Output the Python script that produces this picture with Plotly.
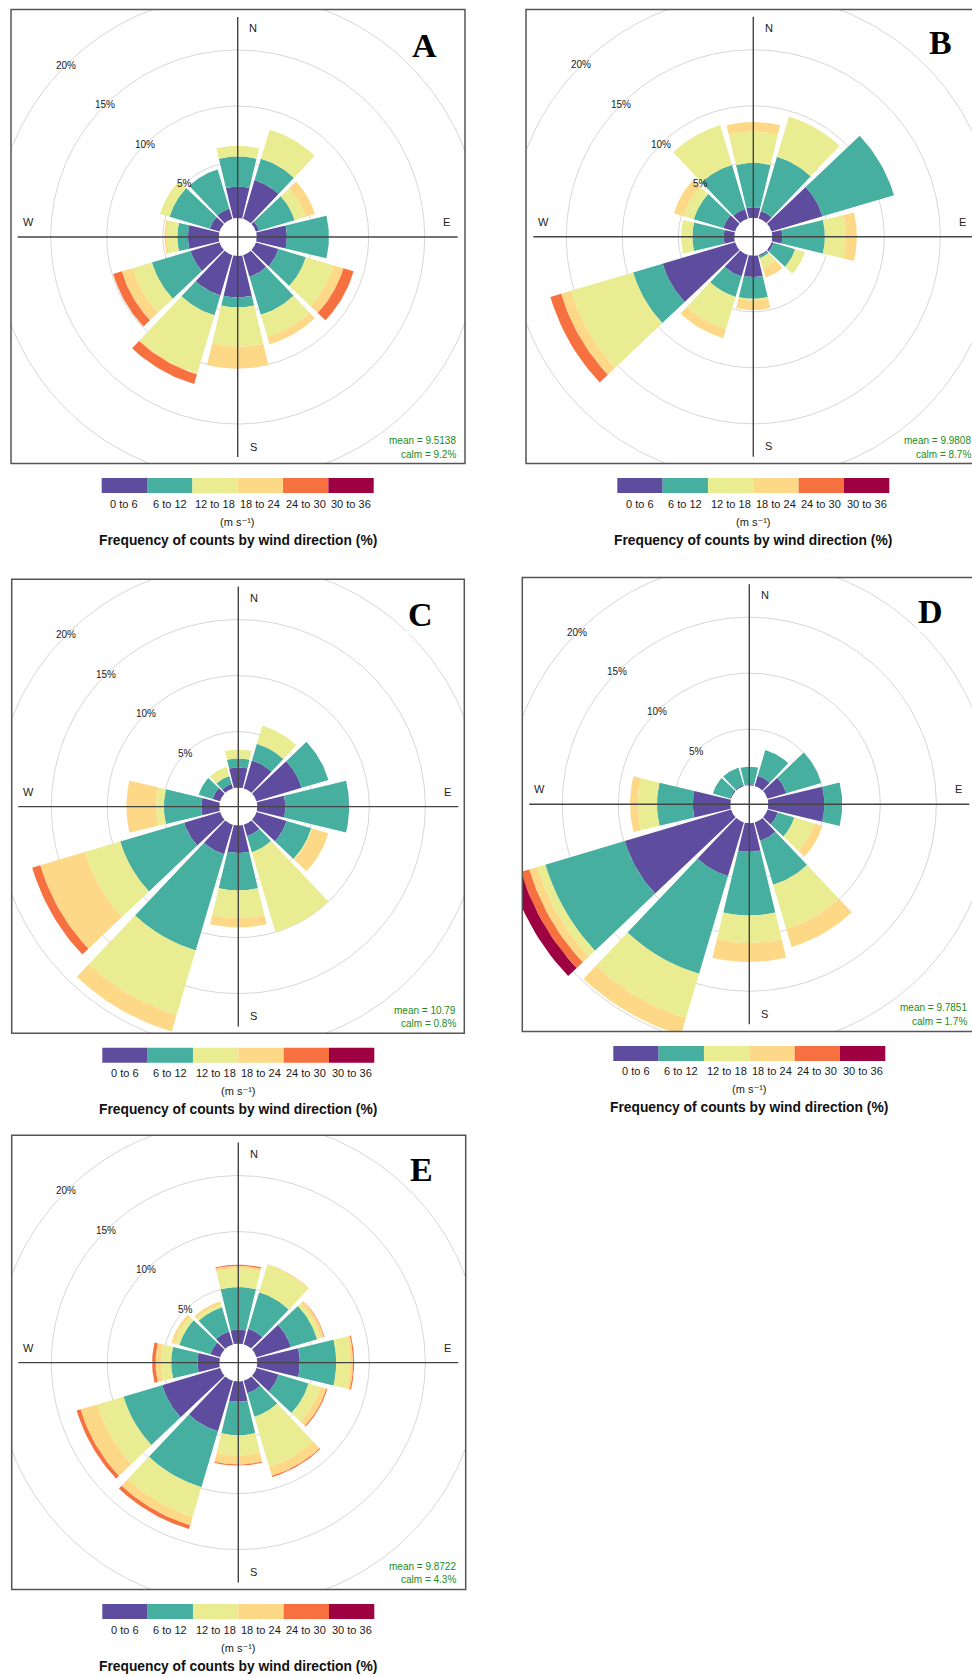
import math
import plotly.graph_objects as go

# ---------------- figure geometry ----------------
FIG_W, FIG_H = 972, 1677
PX = 11.2            # pixels per 1 % of frequency (radial scale)
HOLE = 19 / PX       # calm-circle radius expressed in % units
HALF_WIDTH = 13.5    # half angular width of a wedge (deg)

# ---------------- data ----------------
DIRECTIONS = [0, 30, 60, 90, 120, 150, 180, 210, 240, 270, 300, 330]
SPEED_BINS = ["0 to 6", "6 to 12", "12 to 18", "18 to 24", "24 to 30", "30 to 36"]
BIN_COLORS = ["#5E4C9E", "#46AF9F", "#E9EC91", "#FDD987", "#F7703F", "#9E0142"]
GRID_LEVELS = [5, 10, 15, 20]
COMPASS_LABELS = ["N", "E", "S", "W"]
PANEL_LETTERS = ["A", "B", "C", "D", "E"]
MEAN_SPEED = ["9.5138", "9.9808", "10.79", "9.7851", "9.8722"]
CALM_PCT = ["9.2%", "8.7%", "0.8%", "1.7%", "4.3%"]
UNIT_TEXT = "(m s\u207b\u00b9)"
KEY_TITLE = "Frequency of counts by wind direction (%)"

# frequency (%) per speed bin, directions N, NNE, ENE, E, ESE, SSE, S, SSW, WSW, W, WNW, NNW
A_0_6 = [2.8, 3.6, 0.3, 2.7, 2.1, 2.0, 3.7, 3.75, 2.7, 2.75, 0.9, 0.95]
A_6_12 = [2.7, 2.0, 3.3, 3.75, 2.55, 3.55, 0.9, 1.85, 3.6, 0.95, 3.75, 3.65]
A_12_18 = [0.95, 2.7, 1.0, 0.0, 2.6, 2.05, 3.5, 5.4, 1.8, 0.95, 0.9, 0.0]
A_18_24 = [0.0, 0.0, 0.9, 0.0, 0.9, 0.7, 1.95, 0.1, 1.0, 0.2, 0.0, 0.0]
A_24_30 = [0.0, 0.0, 0.0, 0.0, 0.95, 0.0, 0.0, 0.9, 0.8, 0.0, 0.0, 0.0]
A_30_36 = [0.0] * 12

B_0_6 = [0.95, 0.7, 4.75, 0.9, 0.2, 0.1, 1.9, 2.0, 6.75, 0.95, 1.1, 0.9]
B_6_12 = [3.95, 5.05, 6.65, 3.8, 2.0, 0.2, 1.95, 1.9, 2.75, 2.8, 2.75, 4.1]
B_12_18 = [2.8, 3.75, 0.0, 1.9, 0.9, 0.9, 0.15, 3.0, 5.8, 1.0, 0.95, 3.7]
B_18_24 = [0.85, 0.0, 0.0, 0.95, 0.0, 0.9, 0.85, 0.85, 0.9, 0.0, 0.9, 0.0]
B_24_30 = [0.0, 0.0, 0.0, 0.0, 0.0, 0.0, 0.0, 0.0, 1.0, 0.0, 0.0, 0.0]
B_30_36 = [0.0] * 12

C_0_6 = [1.8, 2.6, 4.2, 2.5, 2.8, 1.05, 2.45, 2.75, 3.35, 1.6, 0.7, 0.4]
C_6_12 = [0.8, 1.55, 2.5, 5.7, 2.3, 1.5, 3.35, 8.95, 5.95, 3.35, 1.3, 0.75]
C_12_18 = [0.8, 1.7, 0.0, 0.0, 0.1, 7.45, 2.45, 6.0, 3.3, 0.7, 0.0, 0.85]
C_18_24 = [0.0, 0.0, 0.0, 0.0, 1.5, 0.0, 0.85, 1.55, 4.15, 2.65, 0.0, 0.0]
C_24_30 = [0.0, 0.0, 0.0, 0.0, 0.0, 0.0, 0.0, 0.0, 0.75, 0.0, 0.0, 0.0]
C_30_36 = [0.0] * 12

D_0_6 = [0.1, 0.95, 1.75, 5.0, 0.95, 1.7, 2.55, 5.0, 9.9, 3.35, 0.1, 0.1]
D_6_12 = [1.55, 2.4, 3.25, 1.6, 1.55, 4.1, 5.7, 9.1, 7.4, 3.2, 1.6, 1.6]
D_12_18 = [0.0, 0.0, 0.0, 0.0, 1.85, 4.1, 2.45, 4.1, 0.75, 1.7, 0.0, 0.0]
D_18_24 = [0.0, 0.0, 0.0, 0.0, 0.75, 1.7, 1.7, 1.6, 0.75, 0.7, 0.0, 0.0]
D_24_30 = [0.0, 0.0, 0.0, 0.0, 0.0, 0.0, 0.0, 0.0, 0.75, 0.0, 0.0, 0.0]
D_30_36 = [0.0, 0.0, 0.0, 0.0, 0.0, 0.0, 0.0, 0.0, 1.05, 0.0, 0.0, 0.0]

E_0_6 = [1.25, 1.45, 3.2, 3.8, 2.05, 1.15, 1.8, 4.7, 5.4, 1.95, 0.9, 1.2]
E_6_12 = [3.8, 3.4, 2.45, 3.25, 2.8, 2.2, 3.0, 5.2, 3.6, 2.35, 2.9, 2.25]
E_12_18 = [1.65, 2.5, 0.35, 1.25, 1.1, 4.65, 1.8, 2.75, 2.45, 0.9, 0.45, 0.3]
E_18_24 = [0.25, 0.12, 0.3, 0.25, 0.55, 0.85, 0.8, 0.8, 1.55, 0.5, 0.3, 0.25]
E_24_30 = [0.1, 0.0, 0.05, 0.1, 0.1, 0.1, 0.1, 0.35, 0.35, 0.3, 0.0, 0.0]
E_30_36 = [0.0] * 12

PANEL_DATA = [
    [A_0_6, A_6_12, A_12_18, A_18_24, A_24_30, A_30_36],
    [B_0_6, B_6_12, B_12_18, B_18_24, B_24_30, B_30_36],
    [C_0_6, C_6_12, C_12_18, C_18_24, C_24_30, C_30_36],
    [D_0_6, D_6_12, D_12_18, D_18_24, D_24_30, D_30_36],
    [E_0_6, E_6_12, E_12_18, E_18_24, E_24_30, E_30_36],
]

# ---------------- panel placement (pixels) ----------------
GEOM = [
    dict(cx=237.7, cy=237.0, box=(11.0, 9.6, 465.0, 463.6), letter=(424.3, 45.7)),
    dict(cx=753.3, cy=236.8, box=(526.0, 9.6, 980.6, 463.6), letter=(940.7, 42.9)),
    dict(cx=238.3, cy=806.6, box=(11.7, 579.3, 464.3, 1033.2), letter=(420.7, 614.8)),
    dict(cx=749.3, cy=804.2, box=(522.3, 577.5, 976.3, 1031.4), letter=(930.7, 611.3)),
    dict(cx=238.3, cy=1362.6, box=(11.7, 1135.3, 465.7, 1589.6), letter=(421.7, 1169.7)),
]
COMPASS_OFFSETS = [(15.6, -209.0), (209.0, -15.0), (15.6, 209.6), (-209.4, -15.0)]

SANS = "Liberation Sans, Arial, DejaVu Sans, sans-serif"
SERIF = "Liberation Serif, Times New Roman, serif"
STAT_GREEN = "#228B22"


def px_x(v):
    return v / FIG_W


def px_y(v):
    return 1 - v / FIG_H


def label(xp, yp, text, size, color="#222222", family=SANS, xanchor="center", **kw):
    return dict(x=px_x(xp), y=px_y(yp), xref="paper", yref="paper", text=text, showarrow=False,
                xanchor=xanchor, yanchor="middle", font=dict(family=family, size=size, color=color), **kw)


def wedge_xy(theta_c, r_in, r_out, n=18):
    angs = [math.radians(theta_c - HALF_WIDTH + 2 * HALF_WIDTH * i / (n - 1)) for i in range(n)]
    xs = [r_out * math.sin(a) for a in angs] + [r_in * math.sin(a) for a in reversed(angs)]
    ys = [r_out * math.cos(a) for a in angs] + [r_in * math.cos(a) for a in reversed(angs)]
    return xs + [xs[0], None], ys + [ys[0], None]


fig = go.Figure()
axes_layout = {}
annotations = []
shapes = []

for p, g in enumerate(GEOM):
    k = "" if p == 0 else str(p + 1)
    xa, ya = "x" + k, "y" + k
    cx, cy = g["cx"], g["cy"]
    l, t, r, b = g["box"]
    r_vis = min(r, FIG_W)
    axes_layout["xaxis" + k] = dict(domain=[l / FIG_W, r_vis / FIG_W],
                                    range=[(l - cx) / PX, (r_vis - cx) / PX],
                                    visible=False, anchor=ya, fixedrange=True)
    axes_layout["yaxis" + k] = dict(domain=[1 - b / FIG_H, 1 - t / FIG_H],
                                    range=[(cy - b) / PX, (cy - t) / PX],
                                    visible=False, anchor=xa, fixedrange=True)

    # grid rings
    gx, gy = [], []
    for lev in GRID_LEVELS:
        rho = HOLE + lev
        for i in range(361):
            a = math.radians(i)
            gx.append(rho * math.sin(a))
            gy.append(rho * math.cos(a))
        gx.append(None)
        gy.append(None)
    fig.add_trace(go.Scatter(x=gx, y=gy, mode="lines", line=dict(color="#D6D6D6", width=1),
                             hoverinfo="skip", xaxis=xa, yaxis=ya))

    # stacked wedges
    bins = PANEL_DATA[p]
    cum = [0.0] * len(DIRECTIONS)
    for j, vals in enumerate(bins):
        xs, ys = [], []
        for d, theta in enumerate(DIRECTIONS):
            v = vals[d]
            if v > 0:
                wx, wy = wedge_xy(theta, HOLE + cum[d], HOLE + cum[d] + v)
                xs += wx
                ys += wy
            cum[d] += v
        if xs:
            fig.add_trace(go.Scatter(x=xs, y=ys, mode="lines", fill="toself",
                                     fillcolor=BIN_COLORS[j], line=dict(width=0, color=BIN_COLORS[j]),
                                     hoverinfo="skip", xaxis=xa, yaxis=ya))

    # cross hair
    L = 220 / PX
    fig.add_trace(go.Scatter(x=[-L, L, None, 0, 0], y=[0, 0, None, -L, L], mode="lines",
                             line=dict(color="#444444", width=1.4), hoverinfo="skip",
                             xaxis=xa, yaxis=ya))

    # compass letters
    for lab, (dx, dy) in zip(COMPASS_LABELS, COMPASS_OFFSETS):
        annotations.append(label(cx + dx, cy + dy, lab, 11))
    # ring labels at 315 deg
    for lev in GRID_LEVELS:
        rho_px = (HOLE + lev) * PX
        off = rho_px * math.sin(math.radians(45))
        annotations.append(label(cx - off, cy - off, f"{lev}%", 10))
    # panel letter
    lx, ly = g["letter"]
    annotations.append(label(lx, ly, f"<b>{PANEL_LETTERS[p]}</b>", 34, color="black",
                             family=SERIF, bgcolor="white"))
    # mean / calm
    annotations.append(label(cx + 220, cy + 203.4, f"mean = {MEAN_SPEED[p]}", 10,
                             color=STAT_GREEN, xanchor="right"))
    annotations.append(label(cx + 220, cy + 217.3, f"calm = {CALM_PCT[p]}", 10,
                             color=STAT_GREEN, xanchor="right"))

    # frame
    shapes.append(dict(type="rect", xref="paper", yref="paper",
                       x0=l / FIG_W, x1=r / FIG_W, y0=1 - b / FIG_H, y1=1 - t / FIG_H,
                       line=dict(color="#555555", width=1.5), fillcolor="rgba(0,0,0,0)"))

    # colour key
    key_w = 272.0
    seg = key_w / len(SPEED_BINS)
    key_l = cx - key_w / 2
    key_t = b + 14.5
    key_b = key_t + 15
    for j, lab in enumerate(SPEED_BINS):
        x0 = key_l + j * seg
        shapes.append(dict(type="rect", xref="paper", yref="paper",
                           x0=x0 / FIG_W, x1=(x0 + seg) / FIG_W,
                           y0=1 - key_b / FIG_H, y1=1 - key_t / FIG_H,
                           line=dict(width=0), fillcolor=BIN_COLORS[j]))
        annotations.append(label(x0 + seg / 2, key_b + 10.5, lab, 11, color="#1a1a1a"))
    annotations.append(label(cx, key_b + 28.5, UNIT_TEXT, 11, color="#1a1a1a"))
    annotations.append(label(cx, key_b + 47, f"<b>{KEY_TITLE}</b>", 13.8, color="#111111"))

fig.update_layout(width=FIG_W, height=FIG_H, margin=dict(l=0, r=0, t=0, b=0),
                  paper_bgcolor="white", plot_bgcolor="rgba(0,0,0,0)", showlegend=False,
                  annotations=annotations, shapes=shapes, **axes_layout)

fig.write_html("out.html", config={"displayModeBar": False},
               post_script="document.body.style.margin='0px';")
